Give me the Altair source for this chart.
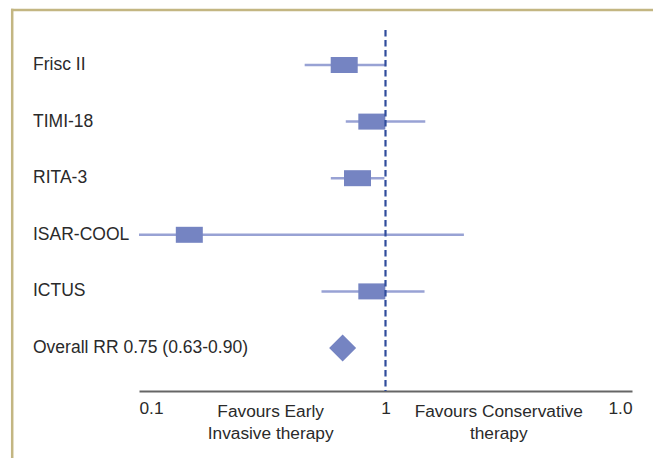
import altair as alt
import pandas as pd

# ---- data ----
trials = ["Frisc II", "TIMI-18", "RITA-3", "ISAR-COOL", "ICTUS"]
rr = [0.68, 0.88, 0.77, 0.16, 0.88]
lower = [0.47, 0.69, 0.60, 0.10, 0.55]
upper = [1.00, 1.45, 0.99, 2.08, 1.44]

overall_label = "Overall RR 0.75 (0.63-0.90)"
overall_rr = [0.67]

tick_values = [0.1, 1, 10]
tick_labels = ["0.1", "1", "1.0"]

annot_text = ["Favours Early\nInvasive therapy", "Favours Conservative\ntherapy"]
annot_x = [0.342, 2.88]

rows = trials + [overall_label]

# ---- styling ----
FONT = "Liberation Sans"
TXT = "#2a2a2a"
BOX = "#7584c2"
LINE = "#98a2d4"
DASH = "#304d9c"
FRAME = "#c3b682"

df = pd.DataFrame({"study": trials, "rr": rr, "lower": lower, "upper": upper})
df_overall = pd.DataFrame({"study": [overall_label], "rr": overall_rr})
df_labels = pd.DataFrame({"study": rows})
df_annot = pd.DataFrame({"text": annot_text, "x": annot_x})

label_expr = "datum.label"
for v, l in zip(tick_values, tick_labels):
    label_expr = f"datum.value == {v} ? '{l}' : ({label_expr})"

yscale = alt.Scale(type="point", domain=rows, range=[35, 318], padding=0)
xscale = alt.Scale(type="log", domain=[0.1, 10])

xaxis = alt.Axis(
    values=tick_values,
    labelExpr=label_expr,
    labelFlush=True,
    ticks=False,
    tickSize=0,
    grid=False,
    domainColor="#666666",
    domainWidth=2.2,
    labelFont=FONT,
    labelFontSize=17.3,
    labelColor=TXT,
    labelPadding=8,
    title=None,
)

ci = alt.Chart(df).mark_rule(strokeWidth=2.5, color=LINE).encode(
    x=alt.X("lower:Q", scale=xscale, axis=xaxis),
    x2="upper:Q",
    y=alt.Y("study:N", scale=yscale, axis=None),
)

boxes = alt.Chart(df).mark_tick(
    orient="horizontal", size=27, thickness=16, color=BOX, opacity=1
).encode(
    x=alt.X("rr:Q", scale=xscale),
    y=alt.Y("study:N", scale=yscale, axis=None),
)

diamond = alt.Chart(df_overall).mark_point(
    shape="diamond", filled=True, size=729, color=BOX, opacity=1
).encode(
    x=alt.X("rr:Q", scale=xscale),
    y=alt.Y("study:N", scale=yscale, axis=None),
)

ref = alt.Chart(alt.Data(values=[{"v": 1}])).mark_rule(
    strokeDash=[6.5, 3.5], strokeWidth=2.2, color=DASH
).encode(x=alt.X("v:Q", scale=xscale))

labels = alt.Chart(df_labels).mark_text(
    align="left", baseline="middle", font=FONT, fontSize=17.5, color=TXT
).encode(
    x=alt.value(-106),
    y=alt.Y("study:N", scale=yscale, axis=None),
    text="study:N",
)

annot = alt.Chart(df_annot).mark_text(
    align="center", baseline="alphabetic", font=FONT, fontSize=17.3,
    color=TXT, lineBreak="\n", lineHeight=22,
).encode(
    x=alt.X("x:Q", scale=xscale),
    y=alt.value(387),
    text="text:N",
)

frame_left = alt.Chart(alt.Data(values=[{}])).mark_rule(
    color=FRAME, strokeWidth=2.5
).encode(x=alt.value(-126.8), y=alt.value(-21.2), y2=alt.value(460))

frame_top = alt.Chart(alt.Data(values=[{}])).mark_rule(
    color=FRAME, strokeWidth=2.5
).encode(x=alt.value(-128), x2=alt.value(700), y=alt.value(-20))

chart = alt.layer(
    frame_left, frame_top, ci, boxes, diamond, ref, labels, annot
).properties(
    width=493,
    height=361,
    autosize="none",
    padding={"left": 131, "top": 22, "right": 21, "bottom": 67},
    background="white",
).configure_view(stroke=None)

chart.save("out.html", embed_options={"renderer": "svg", "actions": False})
